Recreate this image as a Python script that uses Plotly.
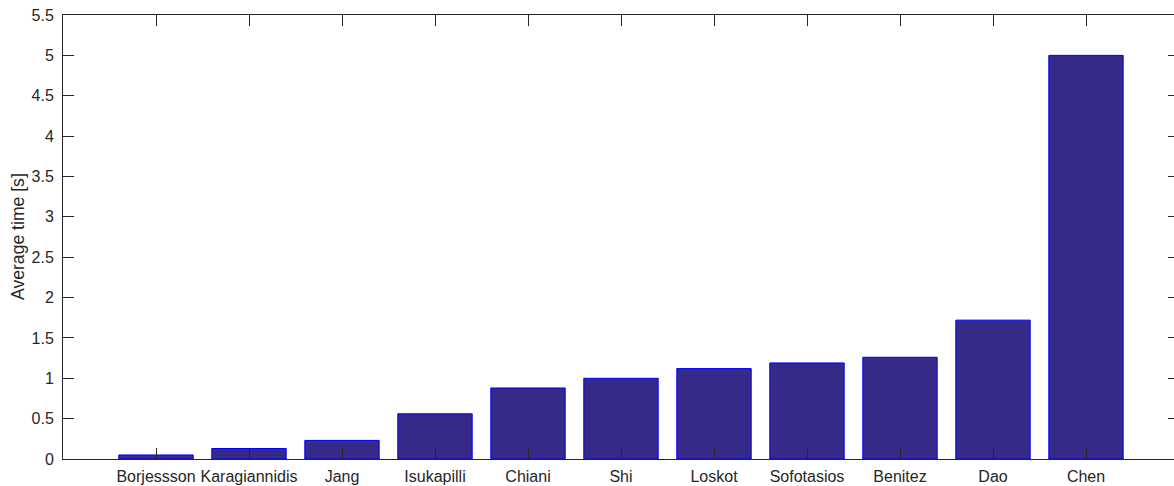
import plotly.graph_objects as go

categories = ["Borjessson", "Karagiannidis", "Jang", "Isukapilli", "Chiani", "Shi",
              "Loskot", "Sofotasios", "Benitez", "Dao", "Chen"]
avg_time = [0.05, 0.13, 0.23, 0.56, 0.88, 1.0, 1.12, 1.19, 1.26, 1.72, 5.0]
y_ticks = [0, 0.5, 1, 1.5, 2, 2.5, 3, 3.5, 4, 4.5, 5, 5.5]
y_tick_labels = ["0", "0.5", "1", "1.5", "2", "2.5", "3", "3.5", "4", "4.5", "5", "5.5"]

positions = list(range(1, len(categories) + 1))

fig = go.Figure()
fig.add_trace(go.Bar(
    x=positions, y=avg_time, width=0.8,
    marker=dict(color="#352A87", line=dict(color="#0000FF", width=1)),
    hoverinfo="skip",
))

axis_color = "#262626"
font_family = "Liberation Sans, Arial, Helvetica, sans-serif"

fig.update_layout(
    width=1179, height=486,
    margin=dict(l=63, r=0, t=15, b=27, autoexpand=False),
    paper_bgcolor="white", plot_bgcolor="white",
    showlegend=False,
    font=dict(family=font_family, size=16, color=axis_color),
    bargap=0,
    annotations=[dict(
        text="Average time [s]", textangle=-90,
        xref="paper", yref="paper", x=0, y=0.5,
        xanchor="center", yanchor="middle", xshift=-45, showarrow=False,
        font=dict(size=17.6, color=axis_color, family=font_family),
    )],
)
fig.update_xaxes(
    range=[0, 12], automargin=False,
    tickmode="array", tickvals=positions, ticktext=categories,
    ticks="inside", ticklen=11, tickwidth=1, tickcolor=axis_color,
    showline=True, linecolor=axis_color, linewidth=1, mirror="ticks",
    showgrid=False, zeroline=False,
    tickfont=dict(size=16, color=axis_color),
    ticklabelstandoff=3,
)
fig.update_yaxes(
    range=[0, 5.5], automargin=False,
    tickmode="array", tickvals=y_ticks, ticktext=y_tick_labels,
    ticks="inside", ticklen=11, tickwidth=1, tickcolor=axis_color,
    showline=True, linecolor=axis_color, linewidth=1, mirror="ticks",
    showgrid=False, zeroline=False,
    tickfont=dict(size=16, color=axis_color),
    ticklabelstandoff=5,
)

fig.write_html(
    "out.html",
    config={"displayModeBar": False, "staticPlot": True},
    post_script="document.body.style.margin='0';document.body.style.overflow='hidden';",
)
